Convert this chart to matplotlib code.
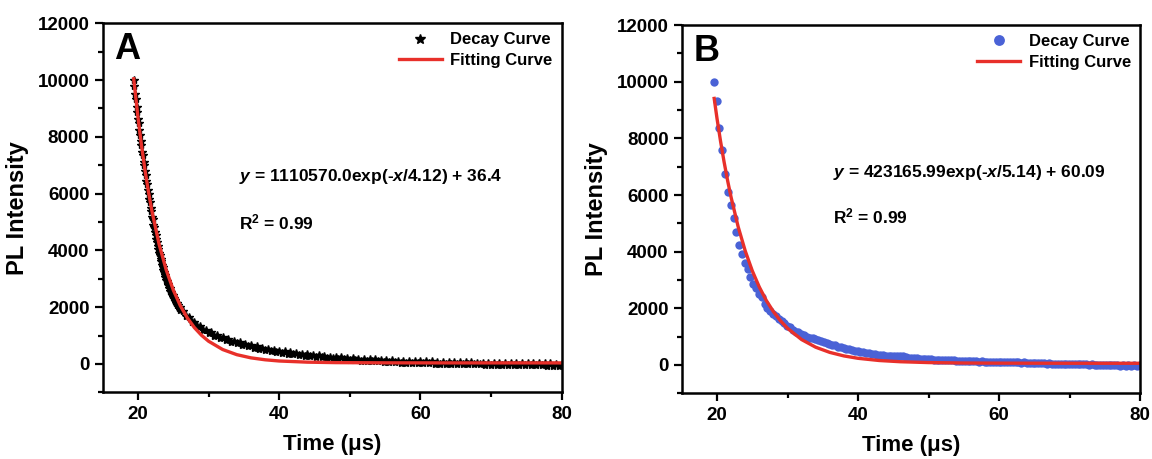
import matplotlib
matplotlib.use('Agg')
import matplotlib.pyplot as plt
from matplotlib.ticker import MultipleLocator

plt.rcParams['font.family'] = ['Liberation Sans', 'DejaVu Sans']
plt.rcParams['font.weight'] = 'bold'
plt.rcParams['mathtext.fontset'] = 'custom'
plt.rcParams['mathtext.rm'] = 'Liberation Sans:bold'
plt.rcParams['mathtext.bf'] = 'Liberation Sans:bold'
plt.rcParams['mathtext.it'] = 'Liberation Sans:bold:italic'

# panel A: measured decay (stars)
a_time = [19.4, 19.5, 19.6, 19.7, 19.8, 19.9, 20.0, 20.1, 20.2, 20.3,
          20.4, 20.5, 20.6, 20.7, 20.8, 20.9, 21.0, 21.1, 21.2, 21.3,
          21.4, 21.5, 21.6, 21.7, 21.8, 21.9, 22.0, 22.1, 22.2, 22.3,
          22.4, 22.5, 22.6, 22.7, 22.8, 22.9, 23.0, 23.1, 23.2, 23.3,
          23.4, 23.5, 23.6, 23.7, 23.8, 23.9, 24.0, 24.1, 24.2, 24.3,
          24.4, 24.5, 24.6, 24.7, 24.8, 24.9, 25.0, 25.1, 25.2, 25.3,
          25.4, 25.5, 25.6, 25.7, 25.8, 25.9, 26.0,
          26.4, 26.8, 27.2, 27.6, 28.0, 28.4, 28.8, 29.2, 29.6, 30.0,
          30.4, 30.8, 31.2, 31.6, 32.0, 32.4, 32.8, 33.2, 33.6, 34.0,
          34.4, 34.8, 35.2, 35.6, 36.0, 36.4, 36.8, 37.2, 37.6, 38.0,
          38.4, 38.8, 39.2, 39.6, 40.0, 40.4, 40.8, 41.2, 41.6, 42.0,
          42.4, 42.8, 43.2, 43.6, 44.0, 44.4, 44.8, 45.2, 45.6, 46.0,
          46.4, 46.8, 47.2, 47.6, 48.0, 48.4, 48.8, 49.2, 49.6, 50.0,
          50.4, 50.8, 51.2, 51.6, 52.0, 52.4, 52.8, 53.2, 53.6, 54.0,
          54.4, 54.8, 55.2, 55.6, 56.0, 56.4, 56.8, 57.2, 57.6, 58.0,
          58.4, 58.8, 59.2, 59.6, 60.0, 60.4, 60.8, 61.2, 61.6, 62.0,
          62.4, 62.8, 63.2, 63.6, 64.0, 64.4, 64.8, 65.2, 65.6, 66.0,
          66.4, 66.8, 67.2, 67.6, 68.0, 68.4, 68.8, 69.2, 69.6, 70.0,
          70.4, 70.8, 71.2, 71.6, 72.0, 72.4, 72.8, 73.2, 73.6, 74.0,
          74.4, 74.8, 75.2, 75.6, 76.0, 76.4, 76.8, 77.2, 77.6, 78.0,
          78.4, 78.8, 79.2, 79.6, 80.0]
a_decay = [10000, 9780, 9520, 9330, 9060, 8880, 8640, 8480, 8230, 8080,
           7850, 7700, 7480, 7350, 7130, 7000, 6790, 6660, 6450, 6340,
           6130, 6000, 5820, 5700, 5500, 5390, 5180, 5090, 4900, 4810,
           4640, 4550, 4390, 4300, 4150, 4060, 3920, 3830, 3700, 3620,
           3480, 3420, 3300, 3250, 3120, 3070, 2960, 2930, 2820, 2790,
           2680, 2660, 2560, 2540, 2440, 2420, 2340, 2320, 2240, 2230,
           2150, 2140, 2060, 2060, 1980, 1990, 1910,
           1860, 1690, 1640, 1490, 1460, 1330, 1320, 1180, 1200, 1090,
           1110, 990, 1020, 910, 950, 840, 870, 770, 810, 720,
           760, 660, 710, 620, 660, 570, 620, 530, 570, 480,
           540, 450, 500, 420, 460, 390, 440, 360, 410, 340,
           390, 310, 360, 290, 340, 270, 320, 250, 300, 230,
           280, 210, 260, 200, 250, 180, 230, 160, 220, 150,
           200, 140, 190, 120, 180, 110, 170, 100, 160, 90,
           150, 80, 140, 70, 130, 60, 120, 50, 120, 40,
           110, 40, 100, 30, 100, 20, 90, 20, 90, 10,
           80, 10, 80, 0, 70, 0, 70, -10, 60, -10,
           60, -20, 60, -20, 50, -20, 50, -30, 50, -30,
           40, -30, 40, -40, 40, -40, 40, -40, 30, -40,
           30, -50, 30, -50, 20, -50, 20, -50, 20, -60,
           20, -60, 10, -60, 10]
a_fit_time = [19.4, 20, 20.5, 21, 21.5, 22, 23, 24, 25, 26, 27, 28, 29, 30,
              32, 34, 36, 38, 40, 44, 48, 55, 65, 80]
a_fit = [10044, 8695, 7703, 6825, 6048, 5361, 4212, 3314, 2607, 2052, 1619,
         1277, 1010, 800, 507, 326, 214, 146, 103, 62, 46, 38, 36, 36]

# panel B: measured decay (dots)
b_time = [19.55, 19.95, 20.35, 20.75, 21.15, 21.55, 21.95, 22.35, 22.75, 23.15,
          23.55, 23.95, 24.35, 24.75, 25.15, 25.55, 25.95, 26.35, 26.75, 27.15,
          27.55, 27.95, 28.35, 28.75, 29.15, 29.55, 29.95, 30.35, 30.75, 31.15,
          31.55, 31.95, 32.35, 32.75, 33.15, 33.55, 33.95, 34.35, 34.75, 35.15,
          35.55, 35.95, 36.35, 36.75, 37.15, 37.55, 37.95, 38.35, 38.75, 39.15,
          39.55, 39.95, 40.35, 40.75, 41.15, 41.55, 41.95, 42.35, 42.75, 43.15,
          43.55, 43.95, 44.35, 44.75, 45.15, 45.55, 45.95, 46.35, 46.75, 47.15,
          47.55, 47.95, 48.35, 48.75, 49.15, 49.55, 49.95, 50.35, 50.75, 51.15,
          51.55, 51.95, 52.35, 52.75, 53.15, 53.55, 53.95, 54.35, 54.75, 55.15,
          55.55, 55.95, 56.35, 56.75, 57.15, 57.55, 57.95, 58.35, 58.75, 59.15,
          59.55, 59.95, 60.35, 60.75, 61.15, 61.55, 61.95, 62.35, 62.75, 63.15,
          63.55, 63.95, 64.35, 64.75, 65.15, 65.55, 65.95, 66.35, 66.75, 67.15,
          67.55, 67.95, 68.35, 68.75, 69.15, 69.55, 69.95, 70.35, 70.75, 71.15,
          71.55, 71.95, 72.35, 72.75, 73.15, 73.55, 73.95, 74.35, 74.75, 75.15,
          75.55, 75.95, 76.35, 76.75, 77.15, 77.55, 77.95, 78.35, 78.75, 79.15,
          79.55, 79.95]
b_decay = [10000, 9330, 8350, 7590, 6730, 6120, 5660, 5200, 4690, 4240,
           3930, 3600, 3400, 3090, 2850, 2720, 2520, 2390, 2170, 2010,
           1920, 1800, 1730, 1640, 1540, 1470, 1380, 1330, 1250, 1180,
           1150, 1090, 1060, 1000, 960, 940, 900, 870, 830, 810,
           760, 740, 700, 690, 640, 620, 600, 560, 550, 520,
           510, 490, 470, 460, 430, 420, 400, 390, 370, 370,
           350, 330, 330, 310, 300, 300, 320, 310, 280, 260,
           250, 240, 240, 220, 220, 210, 200, 200, 190, 190,
           180, 180, 170, 170, 160, 160, 150, 150, 150, 140,
           140, 130, 140, 130, 120, 130, 120, 110, 120, 110,
           110, 120, 110, 100, 110, 100, 90, 100, 90, 80,
           90, 80, 70, 80, 70, 60, 70, 60, 50, 60,
           50, 40, 50, 40, 30, 40, 30, 30, 40, 30,
           20, 30, 20, 10, 20, 10, 0, 10, 0, 10,
           0, -10, 0, -10, -20, -10, -20, -10, -20, -10,
           -20, -10]
b_fit_time = [19.6, 20, 20.5, 21, 21.5, 22, 23, 24, 25, 26, 27, 28, 29, 30,
              32, 34, 36, 38, 40, 43, 46, 50, 55, 60, 70, 80]
b_fit = [9409, 8703, 7901, 7173, 6513, 5917, 4880, 4029, 3327, 2751, 2274,
         1883, 1561, 1295, 897, 627, 444, 320, 236, 158, 115, 85, 70, 65, 61, 60]

RED = '#e8302a'
BLUE = '#4a62d6'


def style_axes(ax, letter):
    ax.set_xlim(15, 80)
    ax.set_ylim(-1000, 12000)
    ax.xaxis.set_major_locator(MultipleLocator(20))
    ax.xaxis.set_minor_locator(MultipleLocator(10))
    ax.yaxis.set_major_locator(MultipleLocator(2000))
    ax.yaxis.set_minor_locator(MultipleLocator(1000))
    ax.tick_params(which='both', direction='out', top=False, right=False,
                   width=1.6, labelsize=13.5)
    ax.tick_params(which='major', length=6)
    ax.tick_params(which='minor', length=3.5)
    for sp in ax.spines.values():
        sp.set_linewidth(1.8)
    ax.set_xlabel('Time (μs)', fontsize=16, fontweight='bold', labelpad=8)
    ax.set_ylabel('PL Intensity', fontsize=17, fontweight='bold', labelpad=6)
    ax.text(0.025, 0.975, letter, transform=ax.transAxes, fontsize=26,
            fontweight='bold', va='top', ha='left')
    ax.legend(loc='upper right', frameon=False, fontsize=12, handlelength=2.6,
              borderaxespad=0.15, labelspacing=0.35, handletextpad=0.5,
              markerscale=1.3)


def main():
    fig = plt.figure(figsize=(11.52, 4.59), dpi=100)
    ax1 = fig.add_axes([0.0891, 0.1453, 0.3984, 0.804])
    ax2 = fig.add_axes([0.5918, 0.1431, 0.3978, 0.8024])

    ax1.plot(a_time, a_decay, linestyle='none', marker='*', color='black',
             markersize=6, label='Decay Curve')
    ax1.plot(a_fit_time, a_fit, color=RED, linewidth=2.4, label='Fitting Curve')
    style_axes(ax1, 'A')
    ax1.text(34.3, 6600, '$y$ = 1110570.0exp(-$x$/4.12) + 36.4', fontsize=12.5,
             va='center', ha='left')
    ax1.text(34.3, 5000, 'R$^{2}$ = 0.99', fontsize=12.5, va='center', ha='left')

    ax2.plot(b_time, b_decay, linestyle='none', marker='o', color=BLUE,
             markersize=6, markeredgewidth=0, label='Decay Curve')
    ax2.plot(b_fit_time, b_fit, color=RED, linewidth=2.4, label='Fitting Curve')
    style_axes(ax2, 'B')
    ax2.text(36.5, 6800, '$y$ = 423165.99exp(-$x$/5.14) + 60.09', fontsize=12.5,
             va='center', ha='left')
    ax2.text(36.5, 5250, 'R$^{2}$ = 0.99', fontsize=12.5, va='center', ha='left')

    fig.savefig('out.png', dpi=100)


if __name__ == '__main__':
    main()
